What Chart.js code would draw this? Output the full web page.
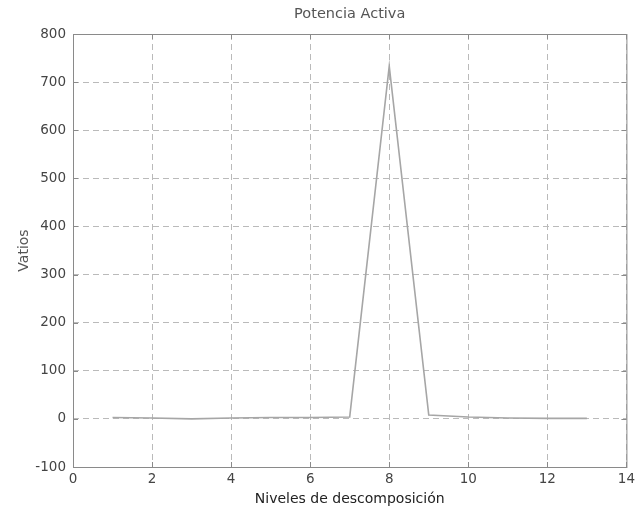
<!DOCTYPE html>
<html>
<head>
<meta charset="utf-8">
<title>Potencia Activa</title>
<script src="https://cdn.jsdelivr.net/npm/chart.js@4"></script>
<style>
  html, body { margin: 0; padding: 0; background: #fff; }
  #wrap { width: 639px; height: 514px; }
</style>
</head>
<body>
<div id="wrap"><canvas id="myChart" width="639" height="514"></canvas></div>
<script>
// DATA
const niveles = [1, 2, 3, 4, 5, 6, 7, 8, 9, 10, 11, 12, 13];
const vatios = [3, 2, 0, 2, 3, 3, 4, 733, 8, 4, 2, 1, 1];
const xTicks = [0, 2, 4, 6, 8, 10, 12, 14];
const yTicks = [-100, 0, 100, 200, 300, 400, 500, 600, 700, 800];
const titulo = 'Potencia Activa';
const ejeX = 'Niveles de descomposición';
const ejeY = 'Vatios';

const FONT = '"DejaVu Sans", "Liberation Sans", Arial, sans-serif';

// box around the axes, small inward ticks and the title (matlab style)
const boxPlugin = {
    id: 'boxPlugin',
    afterDatasetsDraw(chart) {
        const { ctx, chartArea: a, scales } = chart;
        ctx.save();
        ctx.strokeStyle = '#8a8a8a';
        ctx.lineWidth = 1;
        ctx.strokeRect(a.left + 0.5, a.top + 0.5, a.right - a.left, a.bottom - a.top);
        ctx.beginPath();
        xTicks.forEach(v => {
            const px = Math.round(scales.x.getPixelForValue(v)) + 0.5;
            ctx.moveTo(px, a.bottom); ctx.lineTo(px, a.bottom - 5);
            ctx.moveTo(px, a.top); ctx.lineTo(px, a.top + 5);
        });
        yTicks.forEach(v => {
            const py = Math.round(scales.y.getPixelForValue(v)) + 0.5;
            ctx.moveTo(a.left, py); ctx.lineTo(a.left + 5, py);
            ctx.moveTo(a.right, py); ctx.lineTo(a.right - 5, py);
        });
        ctx.stroke();
        ctx.fillStyle = '#555';
        ctx.font = '14.5px ' + FONT;
        ctx.textAlign = 'center';
        ctx.textBaseline = 'middle';
        ctx.fillText(titulo, (a.left + a.right) / 2, 14);
        ctx.restore();
    }
};

const ctx = document.getElementById('myChart').getContext('2d');
const myChart = new Chart(ctx, {
    type: 'line',
    data: {
        datasets: [{
            data: niveles.map((n, i) => ({ x: n, y: vatios[i] })),
            borderColor: '#a6a6a6',
            borderWidth: 1.6,
            pointRadius: 0,
            fill: false,
            tension: 0
        }]
    },
    options: {
        responsive: false,
        animation: false,
        layout: { padding: { top: 34, right: 10, left: 0, bottom: 0 } },
        plugins: {
            legend: { display: false },
            tooltip: { enabled: false },
            title: { display: false }
        },
        scales: {
            x: {
                type: 'linear',
                min: 0,
                max: 14,
                afterFit: s => { s.height = 47; },
                afterBuildTicks: s => { s.ticks = xTicks.map(v => ({ value: v })); },
                ticks: { padding: 4, color: '#444', font: { family: FONT, size: 13.5 } },
                grid: { color: '#bababa', drawTicks: false },
                border: { display: false, dash: [6, 4] },
                title: { display: true, text: ejeX, color: '#222', font: { family: FONT, size: 14 }, padding: { top: 0, bottom: 6 } }
            },
            y: {
                type: 'linear',
                min: -100,
                max: 800,
                afterFit: s => { s.width = 73; },
                afterBuildTicks: s => { s.ticks = yTicks.map(v => ({ value: v })); },
                ticks: { padding: 7, color: '#444', font: { family: FONT, size: 13.5 } },
                grid: { color: '#bababa', drawTicks: false },
                border: { display: false, dash: [6, 4] },
                title: { display: true, text: ejeY, color: '#555', font: { family: FONT, size: 14 }, padding: { top: 16, bottom: 0 } }
            }
        }
    },
    plugins: [boxPlugin]
});
</script>
</body>
</html>
